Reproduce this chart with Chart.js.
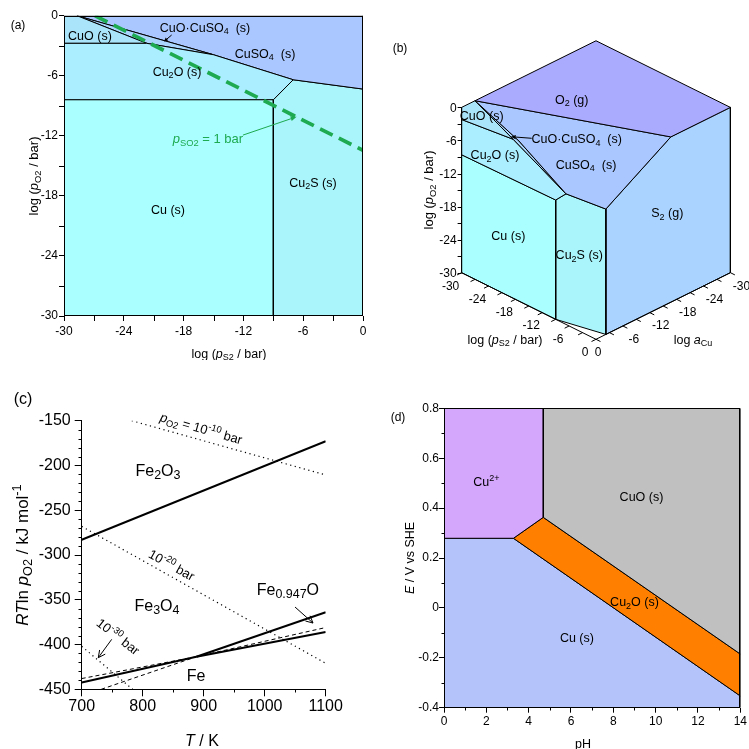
<!DOCTYPE html>
<html><head><meta charset="utf-8">
<script src="https://cdn.jsdelivr.net/npm/chart.js@4.4.1/dist/chart.umd.min.js"></script>
<style>
html,body{margin:0;padding:0;background:#fff;}
#wrap{position:relative;width:749px;height:749px;overflow:hidden;background:#fff;}
canvas{position:absolute;}
</style></head><body>
<div id="wrap">
<canvas id="ca" style="left:0px;top:0px" width="375" height="360"></canvas>
<canvas id="cb" style="left:380px;top:0px" width="369" height="360"></canvas>
<canvas id="cc" style="left:0px;top:360px" width="375" height="389"></canvas>
<canvas id="cd" style="left:380px;top:390px" width="369" height="359"></canvas>
</div>
<script>
// ================= DATA =================
// (a) log pS2 (x) vs log pO2 (y) at a_Cu = 1
const aCuRegion       = [[-30,-8.4],[-9,-8.4],[-9,-30],[-30,-30]];
const aCu2ORegion     = [[-30,-2.76],[-21.7,-2.76],[-15,-3.9],[-7,-6.4],[-9,-8.4],[-30,-8.4]];
const aCuORegion      = [[-30,0],[-28.7,0],[-21.7,-2.76],[-30,-2.76]];
const aCuOCuSO4Region = [[-28.7,0],[-15,-3.9],[-21.7,-2.76]];
const aCuSO4Region    = [[-28.7,0],[0,0],[0,-7.33],[-7,-6.4],[-15,-3.9]];
const aCu2SRegion     = [[-9,-8.4],[-7,-6.4],[0,-7.33],[0,-30],[-9,-30]];
const aSO2Line        = [[-26.9,0],[0,-13.45]];
const aLabels = [["CuO (s)",-27.4,-1.93],["CuO·CuSO_{4}  (s)",-15.85,-1.13],["CuSO_{4}  (s)",-9.83,-3.73],
                 ["Cu_{2}O (s)",-18.66,-5.53],["Cu (s)",-19.57,-19.33],["Cu_{2}S (s)",-5.02,-16.63]];
const aSO2Label = ["*p*_{SO2} = 1 bar",-15.56,-12.23];
const aArrows = [[-19.2,-1.93,-19.97,-2.58],[-12.05,-11.93,-6.66,-10.1]];

// (b) 3D points [log pS2, log pO2, log aCu]
const bO2Face       = [[-30,0,-3],[-30,0,-30],[0,0,-30],[0,0,-16.7]];
const bCuSO4Face    = [[-30,0,-3],[0,0,-16.7],[0,-7.25,-2.2],[-6.7,-6.3,0],[-17.2,-0.94,0]];
const bCuOCuSO4Face = [[-30,0,-3],[-17.2,-0.94,0],[-6.7,-6.3,0],[-18.5,-1.15,0]];
const bCuOFace      = [[-30,0,0],[-30,0,-3],[-18.5,-1.15,0],[-30,-2.2,0]];
const bCu2OFace     = [[-30,-2.2,0],[-18.5,-1.15,0],[-6.7,-6.3,0],[-9,-8.35,0],[-30,-8.6,0]];
const bCuFace       = [[-30,-8.6,0],[-9,-8.35,0],[-9,-30,0],[-30,-30,0]];
const bCu2SFace     = [[-9,-8.35,0],[-6.7,-6.3,0],[0,-7.25,-2.2],[0,-30,-2.2],[-9,-30,0]];
const bS2Face       = [[0,0,-16.7],[0,0,-30],[0,-30,-30],[0,-30,-2.2],[0,-7.25,-2.2]];
const bTicks = [-30,-24,-18,-12,-6,0];
const bLabels = [["O_{2} (g)",-4.41,13.61],["CuO (s)",-20.74,10.58],["CuO·CuSO_{4}  (s)",-3.5,6.48],
                 ["Cu_{2}O (s)",-18.33,3.45],["CuSO_{4}  (s)",-1.81,1.81],["S_{2} (g)",12.94,-6.95],
                 ["Cu (s)",-15.92,-11.25],["Cu_{2}S (s)",-3.03,-14.57]];
const bArrow = [-11.67,6.48,-15.48,6.77];

// (c) T / K vs RT ln pO2 / kJ mol-1
const cFe2O3Fe3O4   = [[700,-283],[1100,-173]];
const cFe3O4Fe      = [[700,-442.5],[888,-413.6]];
const cFe3O4FeO     = [[888,-413.6],[1100,-364]];
const cFeOFe        = [[888,-413.6],[1100,-386]];
const cFeOFeMeta    = [[700,-438],[888,-413.6]];
const cFe3O4FeMeta  = [[888,-413.6],[1100,-381]];
const cFe3O4FeOMeta = [[732,-450],[888,-413.6]];
const cIsobar10 = [[782,-150],[1100,-210.6]];
const cIsobar20 = [[700,-268],[1100,-421]];
const cIsobar30 = [[700,-402],[783.5,-450]];
const cLabels = [["Fe_{2}O_{3}",825,-205],["Fe_{3}O_{4}",823.4,-355.8],["Fe_{0.947}O",1038,-338],["Fe",887.4,-434]];
const cIsobarLabels = [["*p*_{O2} = 10^{-10} bar",896,-158.5,16],["10^{-20} bar",847.5,-311,29],["10^{-30} bar",760,-391,38]];
const cArrows = [[749.2,-394.2,727.2,-414.7],[1049.7,-358.1,1079.2,-376]];

// (d) pH vs E / V
const dCu2Region  = [[0,0.8],[4.69,0.8],[4.69,0.363],[3.28,0.279],[0,0.279]];
const dCuORegion  = [[4.69,0.8],[14,0.8],[14,-0.185],[4.69,0.363]];
const dCu2ORegion = [[3.28,0.279],[4.69,0.363],[14,-0.185],[14,-0.353]];
const dCuRegion   = [[0,0.279],[3.28,0.279],[14,-0.353],[14,-0.4],[0,-0.4]];
const dLabels = [["Cu^{2+}",2.0,0.506],["CuO (s)",9.33,0.445],["Cu_{2}O (s)",9.0,0.024],["Cu (s)",6.28,-0.119]];

// ================= HELPERS =================
const FAM = "'Liberation Sans', Arial, Helvetica, sans-serif";
Chart.defaults.font.family = FAM;
Chart.defaults.color = '#000';
const GREEN = '#1eaa50';

function parseRich(s){
  const out=[]; let buf='', it=false, i=0;
  const flush=()=>{ if(buf){ out.push({t:buf, st:'', it}); buf=''; } };
  while(i<s.length){
    const c=s[i];
    if(c==='*'){ flush(); it=!it; i++; }
    else if((c==='_'||c==='^') && s[i+1]==='{'){ flush(); const j=s.indexOf('}',i);
      out.push({t:s.slice(i+2,j), st:c==='_'?'sub':'sup', it}); i=j+1; }
    else { buf+=c; i++; }
  }
  flush(); return out;
}
function drawRich(ctx, s, x, y, o){
  o=o||{}; const size=o.size||12, sc=o.subScale||0.72;
  const parts=parseRich(s);
  const font=p=>(p.it?'italic ':'')+(p.st?size*sc:size)+'px '+FAM;
  let W=0; parts.forEach(p=>{ ctx.font=font(p); p.w=ctx.measureText(p.t).width; W+=p.w; });
  ctx.save(); ctx.translate(x,y); if(o.rot) ctx.rotate(o.rot*Math.PI/180);
  ctx.fillStyle=o.color||'#000'; ctx.textBaseline='alphabetic'; ctx.textAlign='left';
  let cx = o.align==='left'?0: o.align==='right'? -W : -W/2;
  const base=size*0.36;
  parts.forEach(p=>{ ctx.font=font(p);
    const dy = p.st==='sub'? base+size*0.22 : p.st==='sup'? base-size*0.42 : base;
    ctx.fillText(p.t, cx, dy); cx+=p.w; });
  ctx.restore();
}
function drawArrow(ctx,x1,y1,x2,y2,o){
  o=o||{}; const col=o.color||'#000', hl=o.head||6, hw=o.hw||3;
  ctx.save(); ctx.strokeStyle=col; ctx.fillStyle=col; ctx.lineWidth=o.lw||1;
  const ang=Math.atan2(y2-y1,x2-x1);
  const bx=x2-hl*Math.cos(ang), by=y2-hl*Math.sin(ang);
  ctx.beginPath(); ctx.moveTo(x1,y1); ctx.lineTo(o.filled?bx:x2, o.filled?by:y2); ctx.stroke();
  const px=-Math.sin(ang)*hw, py=Math.cos(ang)*hw;
  ctx.beginPath(); ctx.moveTo(bx+px,by+py); ctx.lineTo(x2,y2); ctx.lineTo(bx-px,by-py);
  if(o.filled){ ctx.closePath(); ctx.fill(); } else ctx.stroke();
  ctx.restore();
}
function minorTicks(ch, axis, step, major, len){
  const sc=ch.scales[axis], ctx=ch.ctx, ca=ch.chartArea;
  ctx.save(); ctx.strokeStyle='#000'; ctx.lineWidth=1; ctx.beginPath();
  const n=Math.round((sc.max-sc.min)/step);
  for(let k=0;k<=n;k++){
    const v=sc.min+k*step, r=(v-sc.min)/major;
    if(Math.abs(r-Math.round(r))<1e-6) continue;
    const p=Math.round(sc.getPixelForValue(v))+0.5;
    if(axis==='x'){ const b=Math.round(ca.bottom); ctx.moveTo(p,b); ctx.lineTo(p,b+len); }
    else { const l=Math.round(ca.left); ctx.moveTo(l,p); ctx.lineTo(l-len,p); }
  }
  ctx.stroke(); ctx.restore();
}
function boxRect(ch){
  const ctx=ch.ctx, ca=ch.chartArea;
  ctx.save(); ctx.strokeStyle='#000'; ctx.lineWidth=1;
  const l=Math.round(ca.left)+0.5, t=Math.round(ca.top)+0.5, r=Math.round(ca.right)-0.5, b=Math.round(ca.bottom)-0.5;
  ctx.strokeRect(l,t,r-l,b-t); ctx.restore();
}
const xy = pts => pts.map(p=>({x:p[0],y:p[1]}));
function poly(pts,color,o){
  return Object.assign({data:xy(pts.concat([pts[0]])), fill:'shape', backgroundColor:color,
    borderColor:'#000', borderWidth:1, pointRadius:0, tension:0, order:2}, o||{});
}
function line(pts,o){
  return Object.assign({data:xy(pts), fill:false, borderColor:'#000', borderWidth:1,
    pointRadius:0, tension:0, order:1}, o||{});
}
function axis(min,max,step,o){
  return { type:'linear', min, max, afterFit:o.fit,
    border:{display:!!o.border, color:'#000', width:1},
    grid:{drawOnChartArea:false, drawTicks:true, tickLength:o.tl, color:'#000', lineWidth:1},
    ticks:{stepSize:step, autoSkip:false, maxRotation:0, color:'#000', padding:o.pad,
      font:{size:o.fs, family:FAM}, callback:o.cb||(v=>String(Math.round(v*1000)/1000))} };
}
function opts(pad, scales){
  return { responsive:false, animation:false, events:[], devicePixelRatio:1,
    layout:{padding:pad}, plugins:{legend:{display:false}, tooltip:{enabled:false}}, scales };
}

// ================= (a) =================
new Chart(document.getElementById('ca'), {
  type:'line',
  data:{datasets:[
    line(aSO2Line,{borderColor:GREEN, borderWidth:3.7, borderDash:[14,7], order:0}),
    poly(aCuRegion,'#aaffff'), poly(aCu2ORegion,'#aaeeff'), poly(aCuORegion,'#aae4fb'),
    poly(aCuOCuSO4Region,'#aad6fd'), poly(aCuSO4Region,'#aac8ff'), poly(aCu2SRegion,'#aaf5fb')
  ]},
  options: opts({left:0,top:15.7,right:12,bottom:0},{
    x: axis(-30,0,6,{fit:s=>{s.height=44;}, tl:5, pad:3, fs:12}),
    y: axis(-30,0,6,{fit:s=>{s.width=64;}, tl:5, pad:1, fs:12})
  }),
  plugins:[{id:'pa', afterDraw(ch){
    const ctx=ch.ctx, X=ch.scales.x, Y=ch.scales.y;
    boxRect(ch); minorTicks(ch,'x',3,6,5); minorTicks(ch,'y',3,6,5);
    aLabels.forEach(([t,x,y])=>drawRich(ctx,t,X.getPixelForValue(x),Y.getPixelForValue(y),{size:12.5}));
    drawRich(ctx,aSO2Label[0],X.getPixelForValue(aSO2Label[1]),Y.getPixelForValue(aSO2Label[2]),{size:13,color:GREEN});
    const a0=aArrows[0], a1=aArrows[1];
    drawArrow(ctx,X.getPixelForValue(a0[0]),Y.getPixelForValue(a0[1]),X.getPixelForValue(a0[2]),Y.getPixelForValue(a0[3]),{filled:true,head:4,hw:2});
    drawArrow(ctx,X.getPixelForValue(a1[0]),Y.getPixelForValue(a1[1]),X.getPixelForValue(a1[2]),Y.getPixelForValue(a1[3]),{filled:true,head:6,hw:2.5,color:GREEN});
    drawRich(ctx,"log (*p*_{S2} / bar)",229,353,{size:12.5});
    drawRich(ctx,"log (*p*_{O2} / bar)",33,176,{size:13,rot:-90});
    drawRich(ctx,"(a)",18,25,{size:12});
  }}]
});

// ================= (b) =================
const BU=5.51, BOX=216, BOY=174, BW=369, BH=360;
const proj = p => [0.813*(p[0]-p[2]), p[1]-0.403*(p[0]+p[2])];
new Chart(document.getElementById('cb'), {
  type:'line',
  data:{datasets:[
    poly(bO2Face.map(proj),'#aaaaff'), poly(bCuSO4Face.map(proj),'#aac8ff'),
    poly(bCuOCuSO4Face.map(proj),'#aad6fd'), poly(bCuOFace.map(proj),'#aae4fb'),
    poly(bCu2OFace.map(proj),'#aaeeff'), poly(bCuFace.map(proj),'#aaffff'),
    poly(bCu2SFace.map(proj),'#aaf5fb'), poly(bS2Face.map(proj),'#aad4ff')
  ].map(d=>Object.assign(d,{clip:false}))},
  options: opts({left:0,top:0,right:0,bottom:0},{
    x:{type:'linear', display:false, min:-BOX/BU, max:(BW-BOX)/BU},
    y:{type:'linear', display:false, min:-(BH-BOY)/BU, max:BOY/BU}
  }),
  plugins:[{id:'pb', afterDraw(ch){
    const ctx=ch.ctx, X=ch.scales.x, Y=ch.scales.y;
    const P = p => { const q=proj(p); return [X.getPixelForValue(q[0]), Y.getPixelForValue(q[1])]; };
    ctx.save(); ctx.strokeStyle='#000'; ctx.lineWidth=1;
    const seg=(a,b)=>{ ctx.beginPath(); ctx.moveTo(a[0],a[1]); ctx.lineTo(b[0],b[1]); ctx.stroke(); };
    seg(P([-30,-30,0]),P([-30,0,0]));
    for(let v=-30; v<=0; v+=3){ const a=P([-30,v,0]); seg([a[0],Math.round(a[1])+0.5],[a[0]-4,Math.round(a[1])+0.5]); }
    seg(P([-30,-30,0]),P([0,-30,0]));
    for(let v=-30; v<=0; v+=3){ seg(P([v,-30,0]),P([v,-30,1])); }
    seg(P([0,-30,0]),P([0,-30,-30]));
    for(let v=-30; v<=0; v+=3){ seg(P([0,-30,v]),P([1,-30,v])); }
    ctx.restore();
    bTicks.forEach(v=>{
      const a=P([-30,v,0]); drawRich(ctx,String(v),a[0]-5,a[1],{size:12,align:'right'});
      const b=P([v,-30,0]); drawRich(ctx,String(v),b[0]-11,b[1]+12.5,{size:12});
      const c=P([0,-30,v]); drawRich(ctx,String(v),c[0]+(v===0?2:11),c[1]+12.5,{size:12});
    });
    bLabels.forEach(([t,u,v])=>drawRich(ctx,t,X.getPixelForValue(u),Y.getPixelForValue(v),{size:12.5}));
    drawArrow(ctx,X.getPixelForValue(bArrow[0]),Y.getPixelForValue(bArrow[1]),X.getPixelForValue(bArrow[2]),Y.getPixelForValue(bArrow[3]),{filled:true,head:5,hw:2.2});
    drawRich(ctx,"log (*p*_{O2} / bar)",48,190,{size:13,rot:-90});
    drawRich(ctx,"log (*p*_{S2} / bar)",125,339,{size:12.5});
    drawRich(ctx,"log *a*_{Cu}",313,339,{size:12.5});
    drawRich(ctx,"(b)",20,48,{size:12});
  }}]
});

// ================= (c) =================
new Chart(document.getElementById('cc'), {
  type:'line',
  data:{datasets:[
    line(cFe2O3Fe3O4,{borderWidth:2}), line(cFe3O4Fe,{borderWidth:2}),
    line(cFe3O4FeO,{borderWidth:2}), line(cFeOFe,{borderWidth:2}),
    line(cFeOFeMeta,{borderDash:[4,3]}), line(cFe3O4FeMeta,{borderDash:[4,3]}), line(cFe3O4FeOMeta,{borderDash:[4,3]}),
    line(cIsobar10,{borderDash:[1.2,3.5],borderWidth:1.2}), line(cIsobar20,{borderDash:[1.2,3.5],borderWidth:1.2}),
    line(cIsobar30,{borderDash:[1.2,3.5],borderWidth:1.2})
  ]},
  options: opts({left:0,top:60.7,right:49.3,bottom:0},{
    x: axis(700,1100,100,{fit:s=>{s.height=59.7;}, tl:7, pad:1, fs:16, border:true}),
    y: axis(-450,-150,50,{fit:s=>{s.width=81.7;}, tl:7, pad:4, fs:16, border:true})
  }),
  plugins:[{id:'pc', afterDraw(ch){
    const ctx=ch.ctx, X=ch.scales.x, Y=ch.scales.y;
    minorTicks(ch,'x',50,100,3.5); minorTicks(ch,'y',10,50,3.5);
    cLabels.forEach(([t,x,y])=>drawRich(ctx,t,X.getPixelForValue(x),Y.getPixelForValue(y),{size:16,subScale:0.78}));
    cIsobarLabels.forEach(([t,x,y,r])=>drawRich(ctx,t,X.getPixelForValue(x),Y.getPixelForValue(y),{size:13,rot:r}));
    cArrows.forEach(a=>drawArrow(ctx,X.getPixelForValue(a[0]),Y.getPixelForValue(a[1]),X.getPixelForValue(a[2]),Y.getPixelForValue(a[3]),{head:7,hw:3.5}));
    drawRich(ctx,"*RT*ln *p*_{O2} / kJ mol^{-1}",22,195,{size:17,rot:-90,subScale:0.75});
    drawRich(ctx,"*T* / K",202,380,{size:16});
    drawRich(ctx,"(c)",23,38,{size:16});
  }}]
});

// ================= (d) =================
new Chart(document.getElementById('cd'), {
  type:'line',
  data:{datasets:[
    poly(dCu2Region,'#d4a6fc'), poly(dCuORegion,'#c0c0c0'),
    poly(dCu2ORegion,'#ff8000'), poly(dCuRegion,'#b4c4fa')
  ]},
  options: opts({left:0,top:18.3,right:6.3,bottom:0},{
    x: axis(0,14,2,{fit:s=>{s.height=41.3;}, tl:5, pad:2, fs:12}),
    y: axis(-0.4,0.8,0.2,{fit:s=>{s.width=64;}, tl:5, pad:0, fs:12,
        cb:v=>{ const r=Math.round(v*10)/10; return r===0?'0':r.toFixed(1); }})
  }),
  plugins:[{id:'pd', afterDraw(ch){
    const ctx=ch.ctx, X=ch.scales.x, Y=ch.scales.y;
    boxRect(ch); minorTicks(ch,'x',1,2,2.5); minorTicks(ch,'y',0.1,0.2,2.5);
    dLabels.forEach(([t,x,y])=>drawRich(ctx,t,X.getPixelForValue(x),Y.getPixelForValue(y),{size:12.5}));
    drawRich(ctx,"*E* / V vs SHE",29,168,{size:12.5,rot:-90});
    drawRich(ctx,"pH",203,353,{size:12.5});
    drawRich(ctx,"(d)",18,27,{size:12});
  }}]
});
</script>
</body></html>
